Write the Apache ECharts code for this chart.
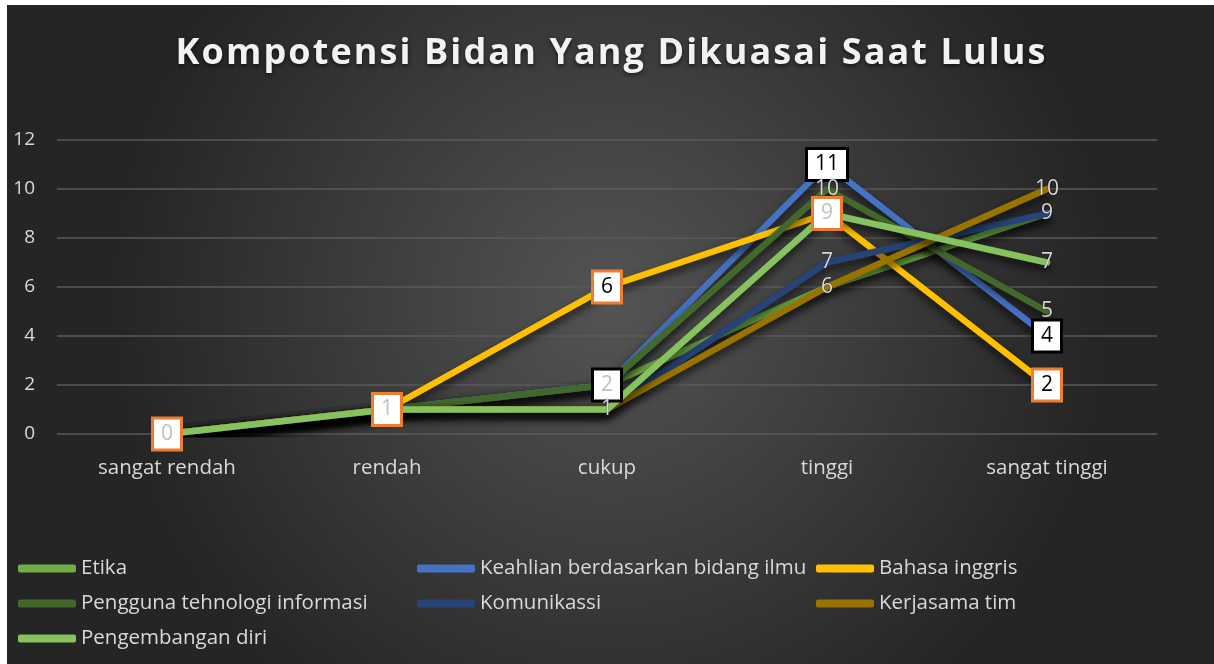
<!DOCTYPE html>
<html>
<head>
<meta charset="utf-8">
<script src="https://cdn.jsdelivr.net/npm/echarts@6/dist/echarts.min.js"></script>
<style>
  html, body { margin: 0; padding: 0; background: #ffffff; }
  #chart { position: absolute; left: 7px; top: 5px; width: 1207px; height: 659px; }
</style>
</head>
<body>
<div id="chart"></div>
<script>
// kategori dan nilai tiap seri
const categories = ['sangat rendah', 'rendah', 'cukup', 'tinggi', 'sangat tinggi'];
const yTicks = [0, 2, 4, 6, 8, 10, 12];

const etika = [0, 1, 2, 6, 9];
const keahlian = [0, 1, 2, 11, 4];
const bahasaInggris = [0, 1, 6, 9, 2];
const penggunaTI = [0, 1, 2, 10, 5];
const komunikassi = [0, 1, 1, 7, 9];
const kerjasamaTim = [0, 1, 1, 6, 10];
const pengembanganDiri = [0, 1, 1, 9, 7];

const seriesNames = [
  'Etika',
  'Keahlian berdasarkan bidang ilmu',
  'Bahasa inggris',
  'Pengguna tehnologi informasi',
  'Komunikassi',
  'Kerjasama tim',
  'Pengembangan diri'
];
const seriesValues = [etika, keahlian, bahasaInggris, penggunaTI, komunikassi, kerjasamaTim, pengembanganDiri];
const colors = ['#70AD47', '#4472C4', '#FFC000', '#43682B', '#264478', '#997300', '#86C35F'];

const FONT = 'Open Sans';
const LABEL_GREY = '#d6d6d6';
const titleText = 'Kompotensi Bidan Yang Dikuasai Saat Lulus';

// gaya label
const plainLabel = {
  show: true,
  position: 'inside',
  color: LABEL_GREY,
  fontFamily: FONT,
  fontSize: 21,
  textBorderColor: 'rgba(0,0,0,0.35)',
  textBorderWidth: 1
};
function boxLabel(borderColor, textColor) {
  return {
    show: true,
    position: 'inside',
    color: textColor,
    fontFamily: FONT,
    fontSize: 21,
    backgroundColor: '#ffffff',
    borderColor: borderColor,
    borderWidth: 3,
    padding: [5, 7, 3, 7]
  };
}

// label mana yang tampil per seri (indeks kategori -> gaya)
const labelMap = {
  1: { 2: boxLabel('#000000', '#c0c0c0'), 3: boxLabel('#000000', '#000000'), 4: boxLabel('#000000', '#000000') },
  2: {
    0: boxLabel('#ED7D31', '#c0c0c0'),
    1: boxLabel('#ED7D31', '#c0c0c0'),
    2: boxLabel('#ED7D31', '#000000'),
    3: boxLabel('#ED7D31', '#c0c0c0'),
    4: boxLabel('#ED7D31', '#000000')
  },
  3: { 3: plainLabel, 4: plainLabel },
  4: { 3: plainLabel, 4: plainLabel },
  5: { 3: plainLabel, 4: plainLabel },
  6: { 2: plainLabel, 4: plainLabel }
};

const series = seriesNames.map((name, i) => ({
  name: name,
  type: 'line',
  symbol: 'circle',
  symbolSize: 1,
  showSymbol: true,
  lineStyle: {
    width: 6.5,
    color: colors[i],
    cap: 'round',
    shadowColor: 'rgba(0,0,0,0.7)',
    shadowBlur: 8,
    shadowOffsetY: 5
  },
  itemStyle: { color: colors[i] },
  labelLayout: { hideOverlap: false },
  data: seriesValues[i].map((v, j) => {
    const lab = labelMap[i] && labelMap[i][j];
    return lab ? { value: v, label: lab } : { value: v, label: { show: false } };
  })
}));

// judul dengan sedikit jarak antar huruf (hair space kecil di antara huruf)
const titleRich = titleText.split('').map(ch => '{t|' + ch + '}').join('{h|\u200A}');

const legendText = { color: '#d9d9d9', fontFamily: FONT, fontSize: 20.5 };
function legendCol(left, names) {
  return {
    orient: 'vertical',
    left: left,
    top: 553,
    padding: 0,
    itemWidth: 58,
    itemHeight: 8,
    itemGap: 14,
    icon: 'roundRect',
    textStyle: legendText,
    data: names
  };
}

const chart = echarts.init(document.getElementById('chart'));
chart.setOption({
  animation: false,
  backgroundColor: {
    type: 'radial',
    x: 0.5, y: 0.45, r: 0.75,
    colorStops: [
      { offset: 0, color: '#545454' },
      { offset: 1, color: '#252525' }
    ]
  },
  color: colors,
  title: {
    text: titleRich,
    left: 'center',
    top: 26,
    textStyle: {
      rich: {
        t: {
          color: '#f2f2f2',
          fontFamily: FONT,
          fontWeight: 'bold',
          fontSize: 36,
          textShadowColor: 'rgba(0,0,0,0.6)',
          textShadowBlur: 4,
          textShadowOffsetY: 2
        },
        h: { fontFamily: FONT, fontSize: 21 }
      }
    }
  },
  legend: [
    legendCol(11, ['Etika', 'Pengguna tehnologi informasi', 'Pengembangan diri']),
    legendCol(410, ['Keahlian berdasarkan bidang ilmu', 'Komunikassi']),
    legendCol(809, ['Bahasa inggris', 'Kerjasama tim'])
  ],
  grid: { left: 50, right: 57, top: 135, bottom: 230 },
  xAxis: {
    type: 'category',
    data: categories,
    boundaryGap: true,
    axisLine: { show: false },
    axisTick: { show: false },
    axisLabel: { color: '#d9d9d9', fontFamily: FONT, fontSize: 20.5, margin: 24 }
  },
  yAxis: {
    type: 'value',
    min: yTicks[0],
    max: yTicks[yTicks.length - 1],
    interval: 2,
    axisLine: { show: false },
    axisTick: { show: false },
    axisLabel: { color: '#d9d9d9', fontFamily: FONT, fontSize: 19, margin: 22 },
    splitLine: { lineStyle: { color: '#5a5a5a', width: 1.5 } }
  },
  series: series
});
</script>
</body>
</html>
